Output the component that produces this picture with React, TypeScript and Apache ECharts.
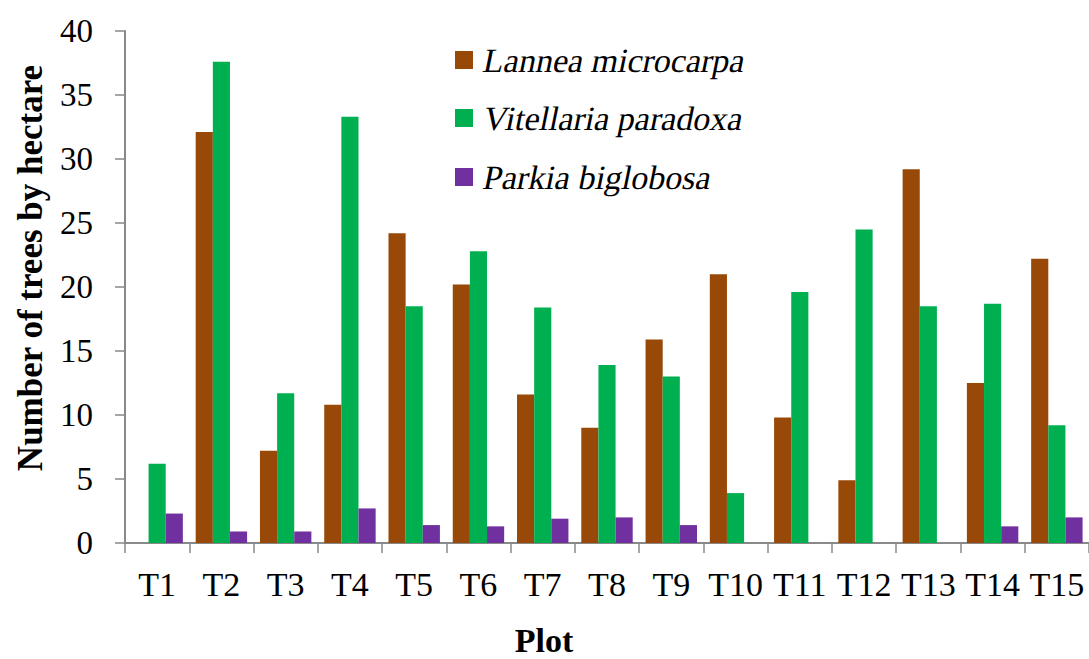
import React, { useEffect, useRef } from "react";
import * as echarts from "echarts";

const categories = ["T1", "T2", "T3", "T4", "T5", "T6", "T7", "T8", "T9", "T10", "T11", "T12", "T13", "T14", "T15"];
const lannea = [0, 32.1, 7.2, 10.8, 24.2, 20.2, 11.6, 9.0, 15.9, 21.0, 9.8, 4.9, 29.2, 12.5, 22.2];
const vitellaria = [6.2, 37.6, 11.7, 33.3, 18.5, 22.8, 18.4, 13.9, 13.0, 3.9, 19.6, 24.5, 18.5, 18.7, 9.2];
const parkia = [2.3, 0.9, 0.9, 2.7, 1.4, 1.3, 1.9, 2.0, 1.4, 0, 0, 0, 0, 1.3, 2.0];
const seriesNames = ["Lannea microcarpa", "Vitellaria paradoxa", "Parkia biglobosa"];
const colors = ["#984807", "#00B050", "#7030A0"];

export default function App() {
  const ref = useRef<HTMLDivElement>(null);
  useEffect(() => {
    if (!ref.current) return;
    const chart = echarts.init(ref.current, undefined, { renderer: "svg" });
    const serif = "Liberation Serif";
    const axisColor = "#898989";
    const dataSets = [lannea, vitellaria, parkia];
    const legendRows = [60, 118, 177];
    const legendGraphics: any[] = [];
    seriesNames.forEach((name, i) => {
      legendGraphics.push({
        type: "rect",
        shape: { x: 455, y: legendRows[i] - 9, width: 18, height: 18 },
        style: { fill: colors[i] },
      });
      legendGraphics.push({
        type: "text",
        x: 484,
        y: legendRows[i],
        skewX: -0.2,
        style: {
          text: name,
          fontFamily: serif,
          fontSize: 34,
          fill: "#000",
          align: "left",
          verticalAlign: "middle",
        },
      });
    });
    chart.setOption({
      animation: false,
      backgroundColor: "#ffffff",
      color: colors,
      textStyle: { fontFamily: serif },
      grid: { left: 125, top: 31, width: 975, height: 512, containLabel: false },
      xAxis: {
        type: "category",
        data: categories,
        boundaryGap: true,
        axisLine: { lineStyle: { color: axisColor, width: 2 } },
        axisTick: { show: true, length: 10, lineStyle: { color: axisColor, width: 1.5 } },
        axisLabel: { fontFamily: serif, fontSize: 34, color: "#000", margin: 24, interval: 0 },
      },
      yAxis: {
        type: "value",
        min: 0,
        max: 40,
        interval: 5,
        splitLine: { show: false },
        axisLine: { show: true, lineStyle: { color: axisColor, width: 2 } },
        axisTick: { show: true, length: 10, lineStyle: { color: axisColor, width: 1.5 } },
        axisLabel: { fontFamily: serif, fontSize: 33, color: "#000", margin: 32 },
      },
      series: dataSets.map((d, i) => ({
        name: seriesNames[i],
        type: "bar",
        data: d,
        barGap: "0%",
        barCategoryGap: "20%",
        itemStyle: { color: colors[i] },
      })),
      graphic: [
        ...legendGraphics,
        {
          type: "text",
          x: 544,
          y: 640,
          style: {
            text: "Plot",
            fontFamily: serif,
            fontWeight: "bold",
            fontSize: 34,
            fill: "#000",
            align: "center",
            verticalAlign: "middle",
          },
        },
        {
          type: "text",
          x: 30,
          y: 268,
          rotation: Math.PI / 2,
          style: {
            text: "Number of trees by hectare",
            fontFamily: serif,
            fontWeight: "bold",
            fontSize: 35,
            fill: "#000",
            align: "center",
            verticalAlign: "middle",
          },
        },
      ],
    });
    return () => chart.dispose();
  }, []);
  return (
    <div
      ref={ref}
      style={{ position: "fixed", left: 0, top: 0, width: 1089, height: 659, background: "#fff" }}
    />
  );
}
